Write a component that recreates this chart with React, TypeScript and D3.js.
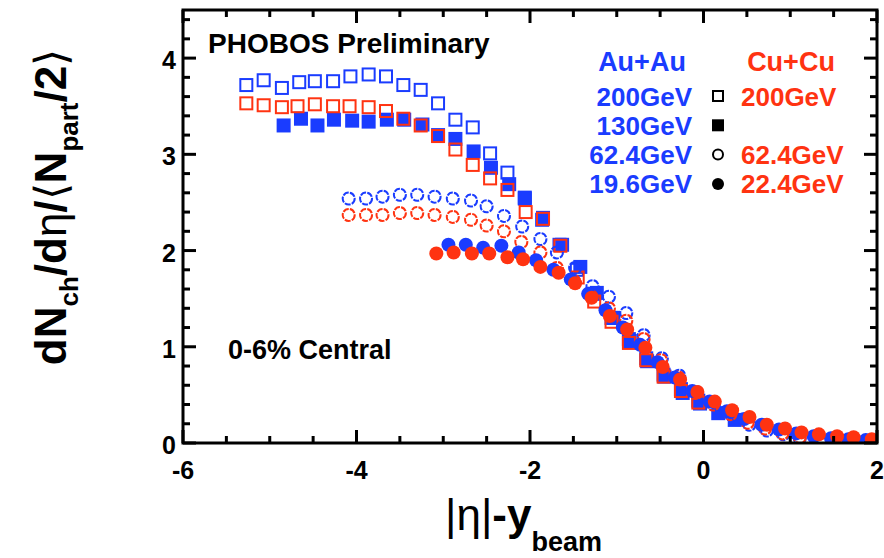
import React from "react";
import * as d3 from "d3";

// |eta| - y_beam  vs  dNch/deta / <Npart/2>
const auau200X = [-5.27, -5.07, -4.86, -4.66, -4.48, -4.27, -4.07, -3.86, -3.66, -3.46, -3.26, -3.06, -2.86, -2.66, -2.46, -2.26, -2.06, -1.86, -1.66, -1.46, -1.26, -1.06, -0.86, -0.66, -0.46, -0.26, -0.06];
const auau200Y = [3.72, 3.77, 3.69, 3.75, 3.76, 3.76, 3.81, 3.83, 3.81, 3.72, 3.67, 3.53, 3.36, 3.28, 3.01, 2.81, 2.55, 2.32, 2.06, 1.8, 1.55, 1.3, 1.08, 0.88, 0.71, 0.56, 0.44];

const auau130X = [-4.84, -4.64, -4.45, -4.26, -4.05, -3.86, -3.65, -3.45, -3.24, -3.06, -2.86, -2.65, -2.45, -2.24, -2.06, -1.85, -1.63, -1.42, -1.23, -1.04, -0.85, -0.65, -0.45, -0.24, -0.04, 0.17, 0.36];
const auau130Y = [3.3, 3.37, 3.3, 3.36, 3.35, 3.34, 3.36, 3.36, 3.31, 3.2, 3.16, 3.03, 2.86, 2.69, 2.54, 2.34, 2.06, 1.83, 1.56, 1.3, 1.06, 0.85, 0.69, 0.52, 0.41, 0.31, 0.24];

const cucu200X = [-5.27, -5.07, -4.86, -4.68, -4.48, -4.27, -4.08, -3.86, -3.66, -3.46, -3.26, -3.06, -2.86, -2.66, -2.46, -2.26, -2.05, -1.85, -1.65, -1.45, -1.26, -1.06, -0.86, -0.66, -0.46, -0.26, -0.06];
const cucu200Y = [3.53, 3.51, 3.49, 3.5, 3.52, 3.5, 3.5, 3.49, 3.45, 3.37, 3.3, 3.19, 3.05, 2.89, 2.75, 2.63, 2.4, 2.33, 2.05, 1.72, 1.47, 1.26, 1.04, 0.86, 0.69, 0.54, 0.42];

const auau62X = [-4.09, -3.89, -3.7, -3.5, -3.3, -3.1, -2.89, -2.68, -2.5, -2.3, -2.09, -1.88, -1.69, -1.48, -1.28, -1.09, -0.89, -0.69, -0.48, -0.28, -0.08, 0.12, 0.32, 0.53, 0.73, 0.92, 1.11];
const auau62Y = [2.54, 2.54, 2.56, 2.58, 2.58, 2.56, 2.54, 2.52, 2.46, 2.36, 2.25, 2.12, 1.98, 1.82, 1.63, 1.52, 1.35, 1.12, 0.88, 0.7, 0.53, 0.4, 0.29, 0.19, 0.13, 0.09, 0.05];

const cucu62X = [-4.09, -3.89, -3.7, -3.5, -3.3, -3.1, -2.89, -2.68, -2.5, -2.3, -2.1, -1.88, -1.69, -1.49, -1.29, -1.09, -0.89, -0.69, -0.49, -0.29, -0.09, 0.11, 0.31, 0.51, 0.71, 0.91, 1.11];
const cucu62Y = [2.37, 2.37, 2.37, 2.39, 2.39, 2.37, 2.35, 2.32, 2.26, 2.2, 2.09, 1.98, 1.82, 1.68, 1.52, 1.4, 1.27, 1.08, 0.86, 0.68, 0.52, 0.4, 0.3, 0.21, 0.15, 0.1, 0.06];

const auau19X = [-2.94, -2.74, -2.54, -2.33, -2.13, -1.93, -1.73, -1.53, -1.33, -1.13, -0.93, -0.73, -0.53, -0.33, -0.13, 0.07, 0.27, 0.47, 0.67, 0.87, 1.07, 1.27, 1.47, 1.67, 1.87];
const auau19Y = [2.06, 2.06, 2.03, 2.05, 1.98, 1.9, 1.8, 1.7, 1.55, 1.38, 1.2, 1.02, 0.84, 0.68, 0.54, 0.43, 0.33, 0.25, 0.19, 0.14, 0.1, 0.07, 0.05, 0.04, 0.03];

const cucu22X = [-3.08, -2.88, -2.67, -2.47, -2.26, -2.08, -1.88, -1.67, -1.48, -1.29, -1.08, -0.88, -0.67, -0.47, -0.27, -0.07, 0.13, 0.33, 0.53, 0.73, 0.94, 1.13, 1.33, 1.54, 1.73, 1.94];
const cucu22Y = [1.97, 1.98, 1.97, 1.97, 1.93, 1.91, 1.83, 1.77, 1.66, 1.51, 1.32, 1.18, 0.99, 0.79, 0.66, 0.53, 0.43, 0.34, 0.27, 0.19, 0.15, 0.11, 0.09, 0.07, 0.06, 0.04];

const auauLabels = ["200GeV", "130GeV", "62.4GeV", "19.6GeV"];
const cucuLabels = ["200GeV", "", "62.4GeV", "22.4GeV"];
const legendShapes = ["openSquare", "square", "openCircle", "circle"];

const BLUE = "#1a3cff";
const RED = "#ff3311";
const FONT = "'Liberation Sans', Arial, Helvetica, sans-serif";

const width = 884;
const height = 558;
const margin = { top: 10, right: 7, bottom: 115, left: 183 };

const x = d3.scaleLinear().domain([-6, 2]).range([margin.left, width - margin.right]);
const y = d3.scaleLinear().domain([0, 4.5]).range([height - margin.bottom, margin.top]);

const series = [
  { xs: auau200X, ys: auau200Y, shape: "openSquare", color: BLUE },
  { xs: auau130X, ys: auau130Y, shape: "square", color: BLUE },
  { xs: cucu200X, ys: cucu200Y, shape: "openSquare", color: RED },
  { xs: auau62X, ys: auau62Y, shape: "openCircle", color: BLUE },
  { xs: cucu62X, ys: cucu62Y, shape: "openCircle", color: RED },
  { xs: auau19X, ys: auau19Y, shape: "circle", color: BLUE },
  { xs: cucu22X, ys: cucu22Y, shape: "circle", color: RED },
];

const Marker = ({ cx, cy, shape, color, size, dashed = true }) => {
  const h = size / 2;
  if (shape === "openSquare")
    return <rect x={cx - h + 1} y={cy - h + 1} width={size - 2} height={size - 2} fill="none" stroke={color} strokeWidth={2} />;
  if (shape === "square")
    return <rect x={cx - h} y={cy - h} width={size} height={size} fill={color} />;
  if (shape === "openCircle")
    return <circle cx={cx} cy={cy} r={h - 1} fill="none" stroke={color} strokeWidth={2} strokeDasharray={dashed ? "6 1.2" : undefined} />;
  return <circle cx={cx} cy={cy} r={h} fill={color} />;
};

const App = () => {
  const x0 = margin.left;
  const x1 = width - margin.right;
  const y0 = height - margin.bottom;
  const y1 = margin.top;

  const xMajor = x.ticks(4);
  const xMinor = d3.range(-6, 2.001, 0.5);
  const yMajor = d3.range(0, 4.001, 1);
  const yMinor = d3.range(0, 4.5, 0.2);

  return (
    <svg width={width} height={height} style={{ position: "absolute", left: 0, top: 0, background: "#fff" }} fontFamily={FONT}>
      <defs>
        <clipPath id="plot">
          <rect x={x0} y={y1} width={x1 - x0} height={y0 - y1} />
        </clipPath>
      </defs>

      {/* data */}
      <g clipPath="url(#plot)">
        {series.map((s, i) => (
          <g key={i}>
            {s.xs.map((v, j) => (
              <Marker key={j} cx={x(v)} cy={y(s.ys[j])} shape={s.shape} color={s.color} size={14} />
            ))}
          </g>
        ))}
      </g>

      {/* frame and ticks */}
      <g stroke="#000">
        <rect x={x0} y={y1} width={x1 - x0} height={y0 - y1} fill="none" strokeWidth={3} />
        {xMinor.map((t) => {
          const big = xMajor.includes(t);
          const l = big ? 13 : 7;
          return (
            <g key={"x" + t} strokeWidth={3}>
              <line x1={x(t)} x2={x(t)} y1={y0} y2={y0 - l} />
              <line x1={x(t)} x2={x(t)} y1={y1} y2={y1 + l} />
            </g>
          );
        })}
        {yMinor.map((t) => {
          const big = Math.abs(t - Math.round(t)) < 1e-6;
          const l = big ? 13 : 7;
          return (
            <g key={"y" + t} strokeWidth={3}>
              <line x1={x0} x2={x0 + l} y1={y(t)} y2={y(t)} />
              <line x1={x1} x2={x1 - l} y1={y(t)} y2={y(t)} />
            </g>
          );
        })}
      </g>

      {/* tick labels */}
      <g fontSize={25} fontWeight="bold" fill="#000">
        {xMajor.map((t) => (
          <text key={t} x={x(t)} y={y0 + 36} textAnchor="middle">{t < 0 ? "-" + Math.abs(t) : t}</text>
        ))}
        {yMajor.map((t) => (
          <text key={t} x={x0 - 7} y={y(t) + 11} textAnchor="end">{t}</text>
        ))}
      </g>

      {/* axis titles */}
      <text x={445} y={530} fontSize={44} fontWeight="bold">
        <tspan fontWeight="normal">|η|</tspan>-y
        <tspan fontSize={27} dy={21}>beam</tspan>
      </text>
      <text transform="translate(66,207) rotate(-90)" textAnchor="middle" fontSize={44} fontWeight="bold">
        dN<tspan fontSize={26} dy={12}>ch</tspan>
        <tspan dy={-12}>/d</tspan>
        <tspan fontWeight="normal">η</tspan>/<tspan fontWeight="normal">⟨</tspan>N
        <tspan fontSize={26} dy={12}>part</tspan>
        <tspan dy={-12}>/2</tspan>
        <tspan fontWeight="normal">⟩</tspan>
      </text>

      {/* annotations */}
      <text x={208} y={53} fontSize={28} fontWeight="bold">PHOBOS Preliminary</text>
      <text x={228} y={359} fontSize={27} fontWeight="bold">0-6% Central</text>

      {/* legend */}
      <text x={642} y={71} fontSize={27} fontWeight="bold" fill={BLUE} textAnchor="middle">Au+Au</text>
      <text x={791} y={71} fontSize={27} fontWeight="bold" fill={RED} textAnchor="middle">Cu+Cu</text>
      {auauLabels.map((lab, i) => {
        const ly = 96 + i * 29.3;
        return (
          <g key={i}>
            <text x={692} y={ly + 9.5} fontSize={26} fontWeight="bold" fill={BLUE} textAnchor="end">{lab}</text>
            <Marker cx={718} cy={ly} shape={legendShapes[i]} color="#000" size={12} dashed={false} />
            {cucuLabels[i] && (
              <text x={741} y={ly + 9.5} fontSize={26} fontWeight="bold" fill={RED}>{cucuLabels[i]}</text>
            )}
          </g>
        );
      })}
    </svg>
  );
};

export default App;
